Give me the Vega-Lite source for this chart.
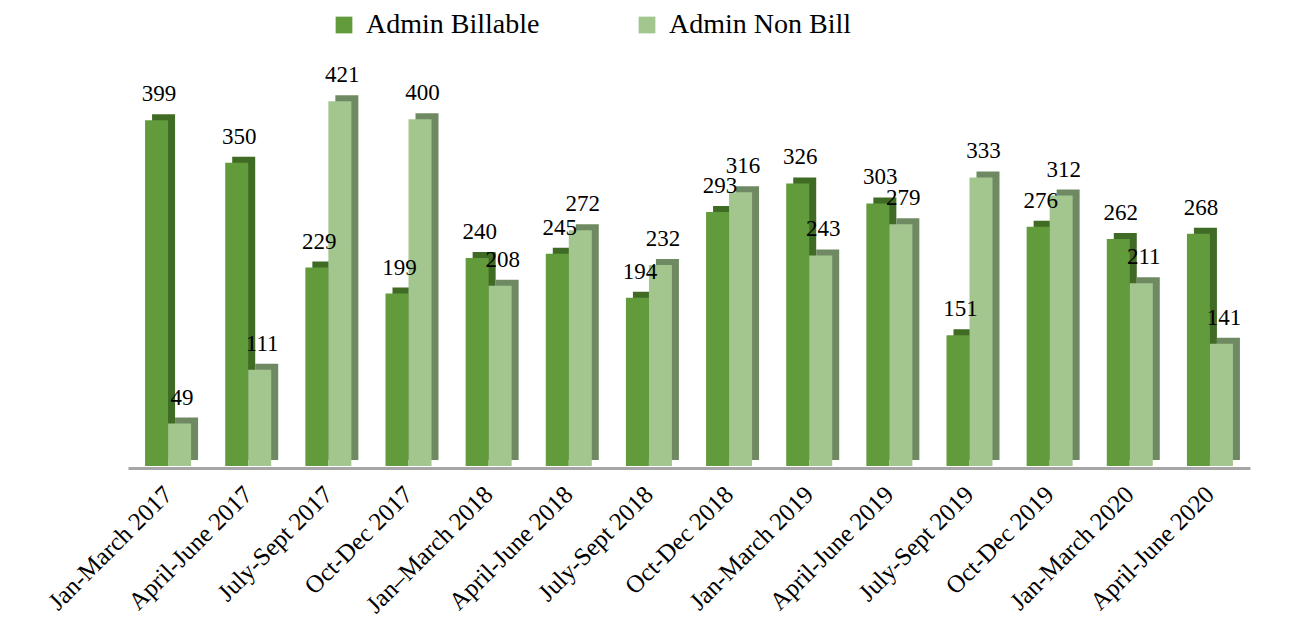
{
  "$schema": "https://vega.github.io/schema/vega-lite/v6.json",
  "autosize": {"type": "none"},
  "width": 1122,
  "height": 390,
  "padding": {"left": 128, "top": 76, "right": 44, "bottom": 176},
  "background": "white",
  "config": {
    "view": {"stroke": null},
    "font": "Liberation Serif",
    "text": {"font": "Liberation Serif"}
  },
  "data": {
    "values": [
      {"period": "Jan-March 2017", "series": "Admin Billable", "value": 399},
      {"period": "Jan-March 2017", "series": "Admin Non Bill", "value": 49},
      {"period": "April-June 2017", "series": "Admin Billable", "value": 350},
      {"period": "April-June 2017", "series": "Admin Non Bill", "value": 111},
      {"period": "July-Sept 2017", "series": "Admin Billable", "value": 229},
      {"period": "July-Sept 2017", "series": "Admin Non Bill", "value": 421},
      {"period": "Oct-Dec 2017", "series": "Admin Billable", "value": 199},
      {"period": "Oct-Dec 2017", "series": "Admin Non Bill", "value": 400},
      {"period": "Jan–March 2018", "series": "Admin Billable", "value": 240},
      {"period": "Jan–March 2018", "series": "Admin Non Bill", "value": 208},
      {"period": "April-June 2018", "series": "Admin Billable", "value": 245},
      {"period": "April-June 2018", "series": "Admin Non Bill", "value": 272},
      {"period": "July-Sept 2018", "series": "Admin Billable", "value": 194},
      {"period": "July-Sept 2018", "series": "Admin Non Bill", "value": 232},
      {"period": "Oct-Dec 2018", "series": "Admin Billable", "value": 293},
      {"period": "Oct-Dec 2018", "series": "Admin Non Bill", "value": 316},
      {"period": "Jan-March 2019", "series": "Admin Billable", "value": 326},
      {"period": "Jan-March 2019", "series": "Admin Non Bill", "value": 243},
      {"period": "April-June 2019", "series": "Admin Billable", "value": 303},
      {"period": "April-June 2019", "series": "Admin Non Bill", "value": 279},
      {"period": "July-Sept 2019", "series": "Admin Billable", "value": 151},
      {"period": "July-Sept 2019", "series": "Admin Non Bill", "value": 333},
      {"period": "Oct-Dec 2019", "series": "Admin Billable", "value": 276},
      {"period": "Oct-Dec 2019", "series": "Admin Non Bill", "value": 312},
      {"period": "Jan-March 2020", "series": "Admin Billable", "value": 262},
      {"period": "Jan-March 2020", "series": "Admin Non Bill", "value": 211},
      {"period": "April-June 2020", "series": "Admin Billable", "value": 268},
      {"period": "April-June 2020", "series": "Admin Non Bill", "value": 141}
    ]
  },
  "encoding": {
    "x": {
      "field": "period", "type": "nominal", "sort": null,
      "scale": {"paddingInner": 0.42, "paddingOuter": 0.21},
      "axis": {
        "title": null, "ticks": false, "labelAngle": -45, "labelAlign": "right",
        "labelBaseline": "middle", "labelPadding": 22, "labelFontSize": 25,
        "labelColor": "#000000", "labelFont": "Liberation Serif",
        "domainColor": "#a6a6a6", "domainWidth": 3, "offset": 2
      }
    },
    "y": {
      "field": "value", "type": "quantitative",
      "scale": {"domain": [0, 450], "nice": false},
      "axis": null
    }
  },
  "layer": [
    {
      "transform": [{"filter": "datum.series === 'Admin Billable'"}],
      "mark": {"type": "bar", "width": 23, "xOffset": -4.5, "yOffset": -6, "y2Offset": -1, "color": "#3f6b24"}
    },
    {
      "transform": [{"filter": "datum.series === 'Admin Billable'"}],
      "mark": {"type": "bar", "width": 23, "xOffset": -11.5},
      "encoding": {
        "color": {
          "field": "series", "type": "nominal",
          "scale": {"domain": ["Admin Billable", "Admin Non Bill"], "range": ["#629b3b", "#a3c68f"]},
          "legend": {
            "title": null, "orient": "none", "direction": "horizontal",
            "legendX": 202, "legendY": -65, "symbolType": "square",
            "symbolSize": 280, "symbolStrokeWidth": 0, "labelFontSize": 28,
            "labelFont": "Liberation Serif", "labelColor": "#000000",
            "columnPadding": 93, "labelOffset": 8, "labelLimit": 0
          }
        }
      }
    },
    {
      "transform": [{"filter": "datum.series === 'Admin Non Bill'"}],
      "mark": {"type": "bar", "width": 23, "xOffset": 18.5, "yOffset": -6, "y2Offset": -1, "color": "#6f8a62"}
    },
    {
      "transform": [{"filter": "datum.series === 'Admin Non Bill'"}],
      "mark": {"type": "bar", "width": 23, "xOffset": 11.5},
      "encoding": {
        "color": {
          "field": "series", "type": "nominal",
          "scale": {"domain": ["Admin Billable", "Admin Non Bill"], "range": ["#629b3b", "#a3c68f"]}
        }
      }
    },
    {
      "transform": [{"filter": "datum.series === 'Admin Billable'"}],
      "mark": {"type": "text", "baseline": "bottom", "dy": -14, "xOffset": -9, "fontSize": 23, "color": "#000000", "font": "Liberation Serif"},
      "encoding": {"text": {"field": "value", "type": "quantitative"}}
    },
    {
      "transform": [{"filter": "datum.series === 'Admin Non Bill'"}],
      "mark": {"type": "text", "baseline": "bottom", "dy": -14, "xOffset": 14, "fontSize": 23, "color": "#000000", "font": "Liberation Serif"},
      "encoding": {"text": {"field": "value", "type": "quantitative"}}
    }
  ]
}
